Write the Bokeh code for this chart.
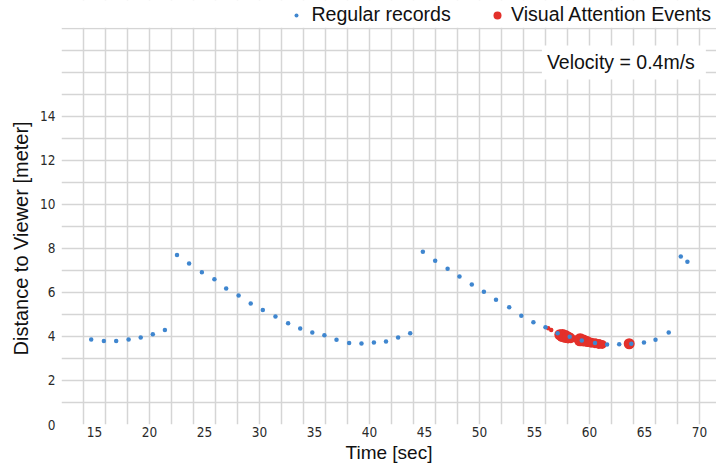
from bokeh.plotting import figure
from bokeh.models import (FixedTicker, Legend, LegendItem, Label, Range1d,
                          ColumnDataSource, Title, BoxAnnotation)
from bokeh.embed import file_html
from bokeh.resources import INLINE

# ---- data ----
t_regular = [14.7, 15.85, 16.97, 18.1, 19.2, 20.3, 21.4,
             22.5, 23.6, 24.76, 25.9, 26.97, 28.1, 29.2, 30.3, 31.45, 32.6,
             33.7, 34.8, 35.9, 37.0, 38.15, 39.27, 40.4, 41.5, 42.6, 43.7,
             44.85, 45.97, 47.1, 48.18, 49.3, 50.4, 51.5, 52.7, 53.8, 54.9,
             56.0, 57.1, 58.2, 59.3, 60.5, 61.6, 62.7, 63.8, 64.95, 66.0,
             67.2, 68.3, 68.9]
d_regular = [3.86, 3.79, 3.79, 3.86, 3.95, 4.1, 4.3,
             7.71, 7.32, 6.92, 6.6, 6.18, 5.86, 5.5, 5.2, 4.91, 4.6,
             4.36, 4.18, 4.06, 3.85, 3.7, 3.68, 3.73, 3.77, 3.95, 4.15,
             7.85, 7.44, 7.08, 6.73, 6.36, 6.03, 5.67, 5.33, 4.94, 4.65,
             4.42, 4.15, 3.99, 3.82, 3.70, 3.64, 3.65, 3.67, 3.73, 3.85,
             4.18, 7.64, 7.4]

t_attention = [56.25, 56.52, 57.3, 57.55, 57.8, 58.05, 58.3,
               59.15, 59.45, 59.8, 60.15, 60.5, 60.85, 61.15, 63.61]
d_attention = [4.37, 4.30, 4.08, 4.04, 4.0, 3.96, 3.92,
               3.85, 3.82, 3.77, 3.72, 3.69, 3.66, 3.64, 3.67]
s_attention = [4.5, 4.5, 11, 13, 13, 12, 10,
               13, 12, 11, 10, 10, 10, 9, 11]

x_ticks = [15, 20, 25, 30, 35, 40, 45, 50, 55, 60, 65, 70]
y_ticks = [0, 2, 4, 6, 8, 10, 12, 14]
x_grid = list(range(12, 72, 2))
y_grid = list(range(0, 19))
y_top = 18  # top of the gridded area

BLUE = "#3f86cf"
RED = "#e3302a"
GRID = "#d5d5d5"

# the frame reaches the top of the canvas; the strip above y_top holds the legend
p = figure(width=716, height=466,
           x_range=Range1d(12, 71.545), y_range=Range1d(0, 19.2727),
           output_backend="svg", toolbar_location=None,
           min_border_left=61, min_border_right=0,
           min_border_top=0, min_border_bottom=42)
p.outline_line_color = None
p.background_fill_color = "white"
p.border_fill_color = "white"

p.xgrid.ticker = FixedTicker(ticks=x_grid)
p.ygrid.ticker = FixedTicker(ticks=y_grid)
for g in (p.xgrid, p.ygrid):
    g.grid_line_color = GRID
    g.grid_line_width = 1.5

p.xaxis.ticker = FixedTicker(ticks=x_ticks)
p.yaxis.ticker = FixedTicker(ticks=y_ticks)
for ax in (p.xaxis, p.yaxis):
    ax.axis_line_color = None
    ax.major_tick_line_color = None
    ax.minor_tick_line_color = None
    ax.major_tick_out = 0
    ax.major_tick_in = 0
    ax.minor_tick_out = 0
    ax.minor_tick_in = 0
    ax.major_label_text_font = "DejaVu Sans Condensed, DejaVu Sans"
    ax.major_label_text_font_size = "13.5px"
    ax.major_label_text_color = "#2a2a2a"
p.xaxis.major_label_standoff = 2
p.yaxis.major_label_standoff = 6

p.xaxis.axis_label = "Time [sec]"
p.xaxis.axis_label_text_font = "Liberation Sans"
p.xaxis.axis_label_text_font_size = "19px"
p.xaxis.axis_label_text_font_style = "normal"
p.xaxis.axis_label_text_color = "#111111"
p.xaxis.axis_label_standoff = 2

# white strip above the grid
p.add_layout(BoxAnnotation(bottom=y_top + 0.035, fill_color="white",
                           fill_alpha=1.0, line_alpha=0))

src_att = ColumnDataSource(dict(t=t_attention, d=d_attention, s=s_attention))
src_reg = ColumnDataSource(dict(t=t_regular, d=d_regular))

red = p.scatter("t", "d", size="s", source=src_att, fill_color=RED,
                line_color=RED, line_width=0)
blue = p.scatter("t", "d", size=4.5, source=src_reg, fill_color=BLUE,
                 line_color=BLUE, line_width=0)

common = dict(orientation="horizontal", padding=0, margin=0,
              border_line_color=None, background_fill_alpha=0,
              label_text_font="Liberation Sans", label_text_font_size="19.6px",
              label_text_color="#111111", label_height=20)
leg1 = Legend(items=[LegendItem(label="Regular records", renderers=[blue])],
              location=(230.4, 398), glyph_width=10, glyph_height=10,
              label_standoff=10, **common)
leg2 = Legend(items=[LegendItem(label="Visual Attention Events", renderers=[red])],
              location=(426, 398), glyph_width=20, glyph_height=20,
              label_standoff=4, **common)
p.add_layout(leg1)
p.add_layout(leg2)

vel = Label(x=480.4, y=362, x_units="screen", y_units="screen",
            text="Velocity = 0.4m/s", text_font="Liberation Sans",
            text_font_size="19.5px", text_color="#111111",
            text_align="left", text_baseline="middle",
            background_fill_color="white", padding=(5, 11, 5, 7))
p.add_layout(vel)

ytitle = Title(text="Distance to Viewer [meter]", align="left", offset=69,
               standoff=12, text_font="Liberation Sans", text_font_size="20px",
               text_font_style="normal", text_color="#111111")
p.add_layout(ytitle, "left")

open("out.html", "w").write(file_html(p, INLINE))
